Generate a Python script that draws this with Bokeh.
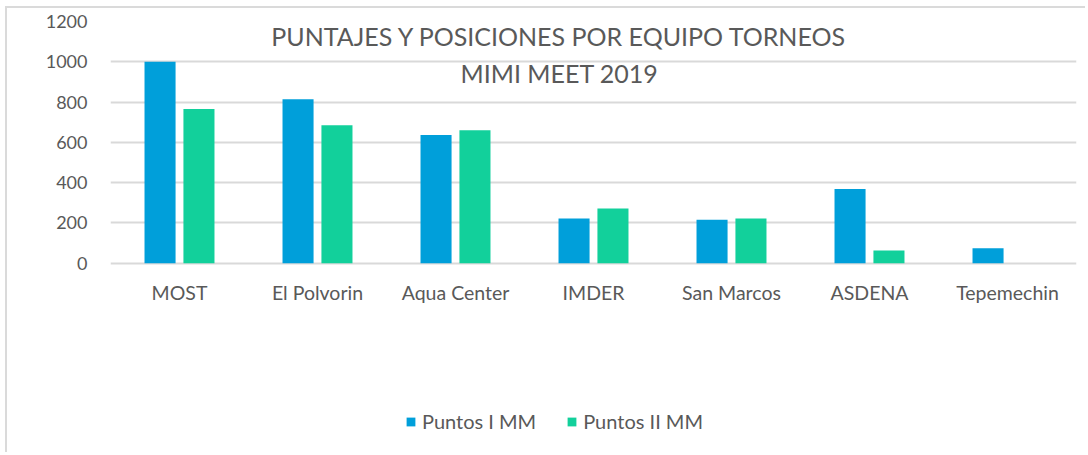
from bokeh.plotting import figure
from bokeh.models import FactorRange, Range1d, Label, Legend, LegendItem, FixedTicker, ColumnDataSource
from bokeh.transform import dodge
from bokeh.core.properties import value
from bokeh.embed import file_html
from bokeh.resources import INLINE

teams = ["MOST", "El Polvorin", "Aqua Center", "IMDER", "San Marcos", "ASDENA", "Tepemechin"]
puntos_1 = [1000, 814, 637, 222, 216, 369, 74]
puntos_2 = [766, 685, 660, 271, 222, 63, 0]
y_ticks = [0, 200, 400, 600, 800, 1000, 1200]
series_names = ["Puntos I MM", "Puntos II MM"]
title_lines = ["PUNTAJES Y POSICIONES POR EQUIPO TORNEOS", "MIMI MEET 2019"]

BLUE = "#009FDA"
GREEN = "#12D09B"
TXT = "#595959"
FONT = "Lato"

src = ColumnDataSource(dict(team=teams, p1=puntos_1, p2=puntos_2, ylab=[-145] * len(teams)))

# the frame extends below zero so the legend can sit inside it; gridlines only at y_ticks
p = figure(width=1080, height=446, output_backend="svg", toolbar_location=None,
           x_range=FactorRange(*teams, range_padding=0), y_range=Range1d(-905, 1200),
           min_border_left=103, min_border_right=11, min_border_top=13, min_border_bottom=9)
p.outline_line_color = None
p.styles = {"border-top": "2px solid #DADADA", "border-left": "2px solid #DADADA",
            "margin-left": "5px", "margin-top": "6px"}

r1 = p.vbar(x=dodge("team", -0.141, range=p.x_range), top="p1", width=0.225, source=src,
            fill_color=BLUE, line_color=None)
r2 = p.vbar(x=dodge("team", 0.141, range=p.x_range), top="p2", width=0.225, source=src,
            fill_color=GREEN, line_color=None)

# category labels
p.text(x="team", y="ylab", text="team", source=src, text_align="center", text_baseline="middle",
       text_font=value(FONT), text_font_size="19.5px", text_color=TXT)

p.xaxis.visible = False
p.xgrid.grid_line_color = None
p.ygrid.grid_line_color = "#D9D9D9"
p.ygrid.grid_line_width = 2
p.yaxis.ticker = FixedTicker(ticks=y_ticks)
ax = p.yaxis[0]
ax.axis_line_color = None
ax.major_tick_line_color = None
ax.minor_tick_line_color = None
ax.major_label_text_font = FONT
ax.major_label_text_color = TXT
ax.major_label_text_font_size = "18px"
ax.major_label_standoff = 17

p.add_layout(Label(x=3.254, y=1130, text=title_lines[0], text_align="center", text_baseline="middle",
                   text_font=FONT, text_font_size="25px", text_color=TXT))
p.add_layout(Label(x=3.254, y=946, text=title_lines[1], text_align="center", text_baseline="middle",
                   text_font=FONT, text_font_size="25px", text_color=TXT))

legend = Legend(items=[LegendItem(label=series_names[0], renderers=[r1]),
                       LegendItem(label=series_names[1], renderers=[r2])],
                orientation="horizontal", location=(295, 12),
                glyph_width=11, glyph_height=11, label_standoff=6, spacing=30, padding=0, margin=0,
                label_text_font=FONT, label_text_font_size="20px", label_text_color=TXT,
                label_height=22, border_line_color=None, background_fill_alpha=0)
p.add_layout(legend, "center")

open("out.html", "w").write(file_html(p, INLINE))
